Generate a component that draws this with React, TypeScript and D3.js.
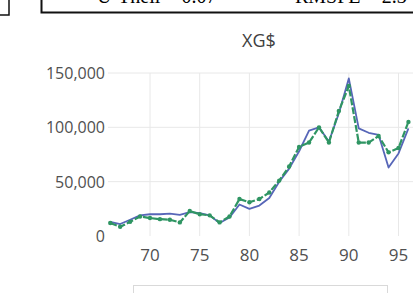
import React, { useRef, useEffect } from 'react';
import * as d3 from 'd3';

const years = [66, 67, 68, 69, 70, 71, 72, 73, 74, 75, 76, 77, 78, 79, 80, 81, 82, 83, 84, 85, 86, 87, 88, 89, 90, 91, 92, 93, 94, 95, 96];
const actual = [13000, 11000, 15000, 19000, 20000, 20000, 20500, 19500, 22000, 21000, 19000, 12000, 17000, 29000, 25000, 28000, 35000, 50000, 62000, 78000, 97000, 100000, 87000, 113000, 145000, 99000, 95000, 93000, 63000, 76000, 99000];
const simulated = [12000, 8500, 13000, 18000, 16500, 15500, 15000, 12500, 23000, 20000, 19000, 12500, 18000, 34000, 31000, 34000, 40000, 51000, 64000, 82000, 86000, 100000, 86000, 115000, 138000, 86000, 86000, 92000, 77000, 81000, 105000];
const yTicks = [0, 50000, 100000, 150000];
const xTicks = [70, 75, 80, 85, 90, 95];
const seriesNames = ['XG$ actual', 'XG$ simulated'];
const seriesColors = ['#5766b8', '#2f9563'];

const App: React.FC = () => {
  const svgRef = useRef<SVGSVGElement>(null);

  useEffect(() => {
    if (!svgRef.current) return;
    const svg = d3.select(svgRef.current);
    svg.selectAll('*').remove();

    const left = 108, right = 413, top = 73, bottom = 236;
    const font = "'Open Sans', 'Liberation Sans', sans-serif";

    const x = d3.scaleLinear().domain([70, 95]).range([150, 398.5]);
    const y = d3.scaleLinear().domain([0, 150000]).range([bottom, top]);

    // boxes of the page above the chart
    svg.append('path').attr('d', 'M9,-2V15H-2').attr('fill', 'none').attr('stroke', '#111').attr('stroke-width', 1.5);
    svg.append('path').attr('d', 'M41.5,-2V12.5H420').attr('fill', 'none').attr('stroke', '#111').attr('stroke-width', 2);
    svg.append('text').attr('x', 97).attr('y', 3).attr('font-family', "'Liberation Serif', serif").attr('font-size', 20).text('U-Theil = 0.07');
    svg.append('text').attr('x', 295).attr('y', 3).attr('font-family', "'Liberation Serif', serif").attr('font-size', 20).text('RMSPE = 2.3');

    // title
    svg.append('text').attr('x', 259).attr('y', 47).attr('text-anchor', 'middle')
      .attr('font-family', font).attr('font-size', 18).attr('fill', '#404040').text('XG$');

    // gridlines
    svg.append('g').selectAll('line').data(yTicks.filter((d) => d > 0)).enter().append('line')
      .attr('x1', left).attr('x2', right).attr('y1', (d) => y(d)).attr('y2', (d) => y(d))
      .attr('stroke', '#e8e8e8').attr('stroke-width', 1);
    svg.append('g').selectAll('line').data(xTicks).enter().append('line')
      .attr('x1', (d) => x(d)).attr('x2', (d) => x(d)).attr('y1', top).attr('y2', bottom)
      .attr('stroke', '#e8e8e8').attr('stroke-width', 1);

    // axis labels
    svg.append('g').selectAll('text').data(yTicks).enter().append('text')
      .attr('x', 105).attr('y', (d) => y(d) + 6).attr('text-anchor', 'end')
      .attr('font-family', font).attr('font-size', 16).attr('fill', '#505050')
      .text((d) => d3.format(',')(d));
    svg.append('g').selectAll('text').data(xTicks).enter().append('text')
      .attr('x', (d) => x(d)).attr('y', 261).attr('text-anchor', 'middle')
      .attr('font-family', font).attr('font-size', 17).attr('fill', '#505050')
      .text((d) => d);

    // lines
    const series = [actual, simulated];
    series.forEach((vals, i) => {
      const line = d3.line<number>().x((_, j) => x(years[j])).y((d) => y(d));
      svg.append('path').datum(vals).attr('d', line).attr('fill', 'none')
        .attr('stroke', seriesColors[i]).attr('stroke-width', i === 0 ? 1.8 : 2.2)
        .attr('stroke-dasharray', i === 1 ? '7,2' : null)
        .attr('stroke-linejoin', 'round');
    });
    svg.append('g').selectAll('circle').data(simulated).enter().append('circle')
      .attr('cx', (_, j) => x(years[j])).attr('cy', (d) => y(d)).attr('r', 2.2)
      .attr('fill', seriesColors[1]);

    // legend (below the visible area)
    const lg = svg.append('g');
    lg.append('rect').attr('x', 133.5).attr('y', 285.5).attr('width', 254).attr('height', 30)
      .attr('fill', 'none').attr('stroke', '#d9d9d9');
    seriesNames.forEach((name, i) => {
      const lx = 150 + i * 120;
      lg.append('line').attr('x1', lx).attr('x2', lx + 25).attr('y1', 300).attr('y2', 300)
        .attr('stroke', seriesColors[i]).attr('stroke-width', 2);
      lg.append('text').attr('x', lx + 30).attr('y', 310).attr('font-family', font)
        .attr('font-size', 13).attr('fill', '#595959').text(name);
    });
  }, []);

  return <svg ref={svgRef} width={413} height={293} style={{ position: 'absolute', left: 0, top: 0, background: '#fff' }} />;
};

export default App;
